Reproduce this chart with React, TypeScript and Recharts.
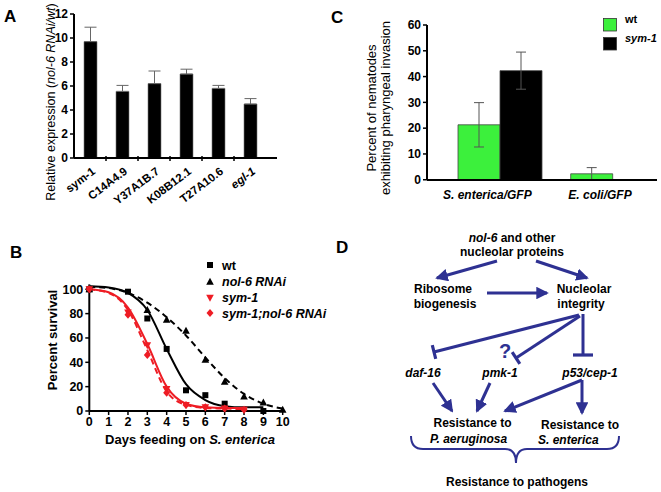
import React from 'react';
import {
  BarChart,
  Bar,
  XAxis,
  YAxis,
  ErrorBar,
  ComposedChart,
  Line,
  Scatter,
  Legend,
} from 'recharts';

const FONT = '"Liberation Sans", Arial, Helvetica, sans-serif';
const BLUE = '#2e3192';
const RED = '#ee1c24';
const GREEN = '#3cf03c';

// ---- panel A: relative expression
const genes = ['sym-1', 'C14A4.9', 'Y37A1B.7', 'K08B12.1', 'T27A10.6', 'egl-1'];
const relExpression = [9.7, 5.55, 6.2, 7.0, 5.8, 4.5];
const relExpressionErr = [1.2, 0.5, 1.05, 0.4, 0.25, 0.45];
const expressionTicks = [0, 2, 4, 6, 8, 10, 12];

// ---- panel B: survival on S. enterica
const dayTicks = [0, 1, 2, 3, 4, 5, 6, 7, 8, 9, 10];
const survivalTicks = [0, 20, 40, 60, 80, 100];
const wtDays = [0, 2, 3, 4, 5, 6, 7, 9];
const wtSurvival = [100, 98, 76, 51, 17, 13, 6, 0];
const nolDays = [0, 3, 4, 5, 6, 7, 8, 9, 10];
const nolSurvival = [100, 83, 75, 66, 42, 24, 12, 7, 1];
const symDays = [0, 2, 3, 4, 5, 6, 7, 8];
const symSurvival = [100, 81, 54, 18, 5, 3, 2, 1];
const symNolDays = [0, 2, 3, 4, 5, 6, 7, 8];
const symNolSurvival = [100, 79, 46, 15, 5, 3, 2, 1];
// fitted curves
const wtFitDays = [0, 1, 2, 3, 4, 5, 6, 7, 8, 9];
const wtFit = [102.5, 101.5, 97, 83, 51, 22, 9, 4, 3, 3];
const nolFitDays = [0, 1, 2, 3, 4, 5, 6, 7, 8, 9, 10];
const nolFit = [102, 101, 97, 89, 77, 62, 44, 27, 14, 6, 2];
const symFitDays = [0, 1, 2, 3, 4, 5, 6, 7, 8];
const symFit = [100, 97.5, 85, 55, 20, 6, 3, 2.5, 2.5];
const symNolFit = [100, 97, 83, 50, 16, 5, 2.5, 2, 1.5];

// ---- panel C: pharyngeal invasion
const strains = ['S. enterica/GFP', 'E. coli/GFP'];
const wtInvasion = [21.3, 2.3];
const wtInvasionErr = [8.6, 2.4];
const sym1Invasion = [42.3, 0];
const sym1InvasionErr = [7.2, 0];
const invasionTicks = [0, 10, 20, 30, 40, 50, 60];
const invasionSeries = [
  { name: 'wt', color: GREEN, italic: false },
  { name: 'sym-1', color: '#000', italic: true },
];

const expressionData = genes.map((g, i) => ({
  gene: g,
  value: relExpression[i],
  err: [0, relExpressionErr[i]],
}));

const invasionData = strains.map((s, i) => ({
  strain: s,
  wt: wtInvasion[i],
  wtErr: wtInvasionErr[i],
  sym1: sym1Invasion[i],
  sym1Err: sym1InvasionErr[i],
}));

const toXY = (xs: number[], ys: number[]) => xs.map((x, i) => ({ x, y: ys[i] }));

const survivalSeries = [
  { name: 'wt', kind: 'square', color: '#000', italic: false, points: toXY(wtDays, wtSurvival) },
  { name: 'nol-6 RNAi', kind: 'up', color: '#000', italic: true, points: toXY(nolDays, nolSurvival) },
  { name: 'sym-1', kind: 'down', color: RED, italic: true, points: toXY(symDays, symSurvival) },
  { name: 'sym-1;nol-6 RNAi', kind: 'diamond', color: RED, italic: true, points: toXY(symNolDays, symNolSurvival) },
];

const Marker = ({ kind, cx, cy, color }: any) => {
  if (cx == null || cy == null) return null;
  if (kind === 'square') return <rect x={cx - 3} y={cy - 3} width={6} height={6} fill={color} />;
  if (kind === 'up')
    return <polygon points={`${cx},${cy - 4} ${cx + 3.8},${cy + 3} ${cx - 3.8},${cy + 3}`} fill={color} />;
  if (kind === 'down')
    return <polygon points={`${cx},${cy + 4} ${cx + 3.8},${cy - 3} ${cx - 3.8},${cy - 3}`} fill={color} />;
  return <polygon points={`${cx},${cy - 4} ${cx + 3.5},${cy} ${cx},${cy + 4} ${cx - 3.5},${cy}`} fill={color} />;
};

const boldTick = { fill: '#000', fontSize: 12, fontWeight: 700 };
const axisLine = { stroke: '#000', strokeWidth: 2 };

const GeneTick = ({ x, y, payload, index }: any) => {
  const half = payload.offset || 16;
  return (
    <g>
      {index < genes.length - 1 && (
        <line x1={x + half} x2={x + half} y1={y - 2} y2={y + 3} stroke="#000" strokeWidth={1.5} />
      )}
      <text
        transform={`translate(${x + 6},${y + 15}) rotate(-37)`}
        textAnchor="end"
        fontSize={11.5}
        fontWeight={700}
        fontStyle={payload.value === 'egl-1' ? 'italic' : 'normal'}
        fill="#000"
      >
        {payload.value}
      </text>
    </g>
  );
};

const StrainTick = ({ x, y, payload }: any) => (
  <text x={x - 13} y={y + 19} textAnchor="middle" fontSize={12} fontWeight={700} fontStyle="italic" fill="#000">
    {payload.value}
  </text>
);

const PanelA = () => (
  <div style={{ position: 'absolute', left: 0, top: 0, width: 290, height: 240 }}>
    <BarChart width={290} height={240} data={expressionData} margin={{ top: 14, right: 13, bottom: 22, left: 44 }}>
      <XAxis
        dataKey="gene"
        interval={0}
        height={60}
        tickLine={false}
        tickSize={0}
        tickMargin={0}
        axisLine={axisLine}
        padding={{ left: 0, right: 11 }}
        tick={<GeneTick />}
      />
      <YAxis
        width={30}
        domain={[0, 12]}
        ticks={expressionTicks}
        interval={0}
        tick={{ ...boldTick, fontSize: 12 }}
        tickSize={4}
        tickMargin={2}
        tickLine={{ stroke: '#000', strokeWidth: 1.5 }}
        axisLine={axisLine}
        label={() => (
          <text transform="translate(55,102) rotate(-90)" textAnchor="middle" fontSize={12.5} fill="#000">
            Relative expression (<tspan fontStyle="italic">nol-6 RNAi/wt</tspan>)
          </text>
        )}
      />
      <Bar dataKey="value" fill="#000" stroke="#777" strokeWidth={0.6} barSize={13} isAnimationActive={false}>
        <ErrorBar dataKey="err" width={6} stroke="#666" strokeWidth={1} direction="y" />
      </Bar>
    </BarChart>
  </div>
);

const SurvivalLegend = () => (
  <svg width={300} height={90} style={{ overflow: 'visible' }}>
    {survivalSeries.map((s, i) => {
      const y = [25, 41.7, 57.7, 73][i];
      return (
        <g key={s.name}>
          <Marker kind={s.kind} cx={210} cy={y} color={s.color} />
          <text x={222} y={y + 4.5} fontSize={12.5} fontWeight={700} fontStyle={s.italic ? 'italic' : 'normal'} fill="#000">
            {s.name}
          </text>
        </g>
      );
    })}
  </svg>
);

const PanelB = () => (
  <div style={{ position: 'absolute', left: 0, top: 240, width: 300, height: 252 }}>
    <ComposedChart width={300} height={252} margin={{ top: 44.4, right: 17.3, bottom: 41, left: 59.3 }}>
      <XAxis
        type="number"
        dataKey="x"
        domain={[0, 10]}
        ticks={dayTicks}
        interval={0}
        height={40}
        tick={{ ...boldTick, fontSize: 12.5 }}
        tickSize={4}
        tickMargin={2}
        tickLine={{ stroke: '#000', strokeWidth: 1.5 }}
        axisLine={axisLine}
        label={() => (
          <text x={190} y={204} textAnchor="middle" fontSize={13} fontWeight={700} fill="#000">
            Days feeding on <tspan fontStyle="italic">S. enterica</tspan>
          </text>
        )}
      />
      <YAxis
        type="number"
        dataKey="y"
        width={30}
        domain={[0, 104]}
        ticks={survivalTicks}
        interval={0}
        tick={{ ...boldTick, fontSize: 12.5 }}
        tickSize={4}
        tickMargin={2}
        tickLine={{ stroke: '#000', strokeWidth: 1.5 }}
        axisLine={axisLine}
        label={() => (
          <text transform="translate(57,100) rotate(-90)" textAnchor="middle" fontSize={13} fontWeight={700} fill="#000">
            Percent survival
          </text>
        )}
      />
      <Line data={toXY(nolFitDays, nolFit)} dataKey="y" type="monotone" stroke="#000" strokeWidth={2} strokeDasharray="6 4" dot={false} legendType="none" isAnimationActive={false} />
      <Line data={toXY(wtFitDays, wtFit)} dataKey="y" type="monotone" stroke="#000" strokeWidth={2} dot={false} legendType="none" isAnimationActive={false} />
      <Line data={toXY(symFitDays, symNolFit)} dataKey="y" type="monotone" stroke={RED} strokeWidth={2} strokeDasharray="6 4" dot={false} legendType="none" isAnimationActive={false} />
      <Line data={toXY(symFitDays, symFit)} dataKey="y" type="monotone" stroke={RED} strokeWidth={2} dot={false} legendType="none" isAnimationActive={false} />
      {survivalSeries.map((s) => (
        <Scatter
          key={s.name}
          name={s.name}
          data={s.points}
          dataKey="y"
          fill={s.color}
          isAnimationActive={false}
          shape={(p: any) => <Marker kind={s.kind} cx={p.cx} cy={p.cy} color={s.color} />}
        />
      ))}
      <Legend
        verticalAlign="middle"
        layout="vertical"
        align="center"
        wrapperStyle={{ position: 'absolute', left: 0, top: 0, width: 300, height: 90 }}
        content={() => <SurvivalLegend />}
      />
    </ComposedChart>
  </div>
);

const InvasionLegend = () => (
  <svg width={60} height={40} style={{ overflow: 'visible' }}>
    {invasionSeries.map((s, i) => (
      <g key={s.name}>
        <rect x={0.5} y={0.5 + i * 19} width={13} height={12.5} fill={s.color} stroke="#333" strokeWidth={0.8} />
        <text x={22} y={5 + i * 19} fontSize={11} fontWeight={700} fontStyle={s.italic ? 'italic' : 'normal'} fill="#000">
          {s.name}
        </text>
      </g>
    ))}
  </svg>
);

const PanelC = () => (
  <div style={{ position: 'absolute', left: 300, top: 0, width: 357, height: 240, overflow: 'hidden' }}>
    <BarChart
      width={357}
      height={240}
      data={invasionData}
      barGap={0}
      margin={{ top: 25, right: -12.4, bottom: 30, left: 97 }}
    >
      <XAxis
        dataKey="strain"
        interval={0}
        height={30}
        tickLine={false}
        tickSize={0}
        tickMargin={0}
        axisLine={axisLine}
        padding={{ left: 17, right: 0 }}
        tick={<StrainTick />}
      />
      <YAxis
        width={30}
        domain={[0, 60]}
        ticks={invasionTicks}
        interval={0}
        tick={boldTick}
        tickSize={4}
        tickMargin={2}
        tickLine={{ stroke: '#000', strokeWidth: 1.5 }}
        axisLine={axisLine}
        label={() => (
          <text transform="rotate(-90)" textAnchor="middle" fontSize={13} fill="#000">
            <tspan x={-108} y={76}>Percent of nematodes</tspan>
            <tspan x={-108} y={89.5}>exhibiting pharyngeal invasion</tspan>
          </text>
        )}
      />
      <Bar dataKey="wt" name="wt" fill={GREEN} stroke="#444" strokeWidth={0.8} barSize={42} isAnimationActive={false}>
        <ErrorBar dataKey="wtErr" width={5} stroke="#555" strokeWidth={1} direction="y" />
      </Bar>
      <Bar dataKey="sym1" name="sym-1" fill="#000" stroke="#444" strokeWidth={0.8} barSize={42} isAnimationActive={false}>
        <ErrorBar dataKey="sym1Err" width={5} stroke="#555" strokeWidth={1} direction="y" />
      </Bar>
      <Legend
        verticalAlign="middle"
        layout="vertical"
        align="center"
        wrapperStyle={{ position: 'absolute', left: 303, top: 18, width: 60, height: 40 }}
        content={() => <InvasionLegend />}
      />
    </BarChart>
  </div>
);

const tee = (x1: number, y1: number, x2: number, y2: number, half = 7) => {
  const dx = x2 - x1;
  const dy = y2 - y1;
  const len = Math.hypot(dx, dy);
  const px = (-dy / len) * half;
  const py = (dx / len) * half;
  return (
    <g>
      <line x1={x1} y1={y1} x2={x2} y2={y2} stroke={BLUE} strokeWidth={3} />
      <line x1={x2 - px} y1={y2 - py} x2={x2 + px} y2={y2 + py} stroke={BLUE} strokeWidth={3.2} />
    </g>
  );
};

const arrow = (x1: number, y1: number, x2: number, y2: number) => (
  <line x1={x1} y1={y1} x2={x2} y2={y2} stroke={BLUE} strokeWidth={3} markerEnd="url(#ah)" />
);

const Diagram = () => (
  <svg width={661} height={492} style={{ position: 'absolute', left: 0, top: 0, pointerEvents: 'none' }}>
    <defs>
      <marker id="ah" viewBox="0 0 10 10" refX="8.5" refY="5" markerWidth="4.2" markerHeight="4.2" orient="auto" markerUnits="strokeWidth">
        <path d="M0,0 L10,5 L0,10 z" fill={BLUE} />
      </marker>
    </defs>
    <g fontWeight={700} fontSize={17} fill="#000">
      <text x={4} y={22}>A</text>
      <text x={10} y={258}>B</text>
      <text x={331} y={23}>C</text>
      <text x={336} y={253}>D</text>
    </g>
    <g fontWeight={700} fontSize={12} fill="#000" textAnchor="middle">
      <text x={512} y={242}>
        <tspan fontStyle="italic">nol-6</tspan> and other
      </text>
      <text x={512} y={256}>nucleolar proteins</text>
      <text x={443} y={293}>Ribosome</text>
      <text x={445} y={307.5}>biogenesis</text>
      <text x={584} y={293}>Nucleolar</text>
      <text x={581} y={307.5}>integrity</text>
      <text x={423} y={377} fontStyle="italic">daf-16</text>
      <text x={500} y={377} fontStyle="italic">pmk-1</text>
      <text x={590} y={377} fontStyle="italic">p53/cep-1</text>
      <text x={472.5} y={427}>Resistance to</text>
      <text x={430} y={443} textAnchor="start" fontStyle="italic">P. aeruginosa</text>
      <text x={580} y={429}>Resistance to</text>
      <text x={538} y={444} textAnchor="start" fontStyle="italic">S. enterica</text>
      <text x={517} y={486}>Resistance to pathogens</text>
      <text x={505} y={358} fontSize={20} fill={BLUE}>?</text>
    </g>
    {arrow(497, 261, 437, 278)}
    {arrow(536, 261, 587, 278)}
    {arrow(487, 293, 547, 293)}
    {tee(579, 315, 434, 352)}
    {tee(580, 316, 516, 358)}
    {tee(583, 314, 583, 355, 10)}
    {arrow(433, 383, 452, 411)}
    {arrow(490, 383, 477, 411)}
    {arrow(582, 380, 505, 411)}
    {arrow(582, 380, 582, 413)}
    <path
      d="M411,436 Q411,449 423,449 L505,449 Q516,449 516,463 Q516,449 527,449 L607,449 Q619,449 619,436"
      fill="none"
      stroke={BLUE}
      strokeWidth={2}
    />
  </svg>
);

export default function App() {
  return (
    <div
      style={{
        position: 'absolute',
        left: 0,
        top: 0,
        width: 661,
        height: 492,
        overflow: 'hidden',
        background: '#fff',
        fontFamily: FONT,
      }}
    >
      <PanelA />
      <PanelC />
      <PanelB />
      <Diagram />
    </div>
  );
}
